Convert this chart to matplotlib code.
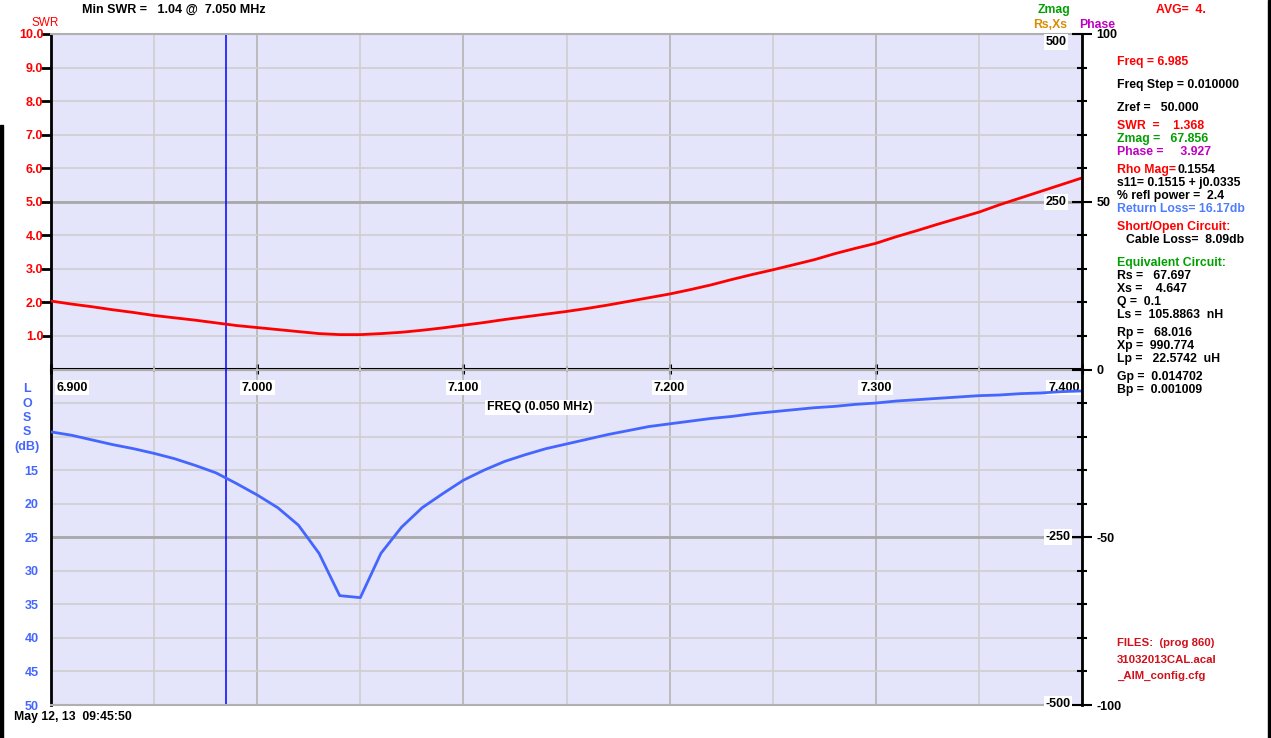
import matplotlib
matplotlib.use("Agg")
import matplotlib.pyplot as plt
import numpy as np
from matplotlib.patches import Rectangle
from matplotlib.ticker import FixedLocator, MultipleLocator, NullFormatter

plt.rcParams["font.family"] = ["Liberation Sans", "DejaVu Sans"]
plt.rcParams["axes.unicode_minus"] = False

W, H = 1271, 738

# sweep 6.900 .. 7.400 MHz, 0.010 MHz step
freq_step = 0.010
freq = np.round(6.90 + freq_step * np.arange(51), 3)

swr = [2.04, 1.95, 1.87, 1.78, 1.70, 1.61, 1.54, 1.47, 1.39, 1.31,
       1.25, 1.19, 1.13, 1.07, 1.04, 1.04, 1.07, 1.11, 1.17, 1.24,
       1.32, 1.40, 1.49, 1.57, 1.65, 1.73, 1.82, 1.92, 2.03, 2.14,
       2.25, 2.38, 2.52, 2.68, 2.83, 2.97, 3.12, 3.27, 3.45, 3.61,
       3.76, 3.96, 4.14, 4.33, 4.51, 4.69, 4.91, 5.11, 5.31, 5.51, 5.71]

loss_db = [9.3, 9.8, 10.5, 11.2, 11.8, 12.5, 13.3, 14.3, 15.4, 17.0,
           18.7, 20.6, 23.2, 27.4, 33.7, 34.0, 27.4, 23.5, 20.6, 18.5,
           16.5, 15.0, 13.7, 12.7, 11.8, 11.1, 10.4, 9.7, 9.1, 8.5,
           8.1, 7.7, 7.3, 7.0, 6.6, 6.3, 6.0, 5.7, 5.5, 5.2,
           5.0, 4.7, 4.5, 4.3, 4.1, 3.9, 3.8, 3.6, 3.5, 3.3, 3.2]

cursor_freq = 6.985
freq_labels = ["6.900", "7.000", "7.100", "7.200", "7.300", "7.400"]
swr_ticks = [1, 2, 3, 4, 5, 6, 7, 8, 9, 10]
loss_ticks = [15, 20, 25, 30, 35, 40, 45, 50]
phase_labels = {100: "100", 50: "50", 0: "0", -50: "-50", -100: "-100"}
z_labels = ["500", "250", "-250", "-500"]

readout = [
    ("Freq = 6.985", "#ff0000", 62),
    ("Freq Step = 0.010000", "black", 85),
    ("Zref =   50.000", "black", 108),
    ("SWR  =    1.368", "#ff0000", 126),
    ("Zmag =   67.856", "#00a000", 139),
    ("Phase =     3.927", "#c000c0", 152),
    ("s11= 0.1515 + j0.0335", "black", 183),
    ("% refl power =  2.4", "black", 196),
    ("Return Loss= 16.17db", "#4d7cff", 209),
    ("Short/Open Circuit:", "#ff0000", 227),
    ("Equivalent Circuit:", "#00a000", 263),
    ("Rs =   67.697", "black", 276),
    ("Xs =    4.647", "black", 289),
    ("Q =  0.1", "black", 302),
    ("Ls =  105.8863  nH", "black", 315),
    ("Rp =   68.016", "black", 333),
    ("Xp =  990.774", "black", 346),
    ("Lp =   22.5742  uH", "black", 359),
    ("Gp =  0.014702", "black", 377),
    ("Bp =  0.001009", "black", 390),
]
files = ["FILES:  (prog 860)", "31032013CAL.acal", "_AIM_config.cfg"]

fig = plt.figure(figsize=(W / 100, H / 100), dpi=100)


def ftext(x, y, s, color="black", ha="left", size=8.8, weight="bold", **kw):
    return fig.text(x / W, 1 - y / H, s, color=color, ha=ha, va="center",
                    fontsize=size, fontweight=weight, **kw)


left, right, top, bottom = 51, 1082, 34, 705
ax = fig.add_axes([left / W, 1 - bottom / H, (right - left) / W, (bottom - top) / H])
ax.set_facecolor("#e4e4fa")
ax.set_xlim(6.9, 7.4)
ax.set_ylim(-10, 10)

# grid
ax.xaxis.set_major_locator(FixedLocator([6.9, 7.0, 7.1, 7.2, 7.3, 7.4]))
ax.xaxis.set_minor_locator(FixedLocator([6.95, 7.05, 7.15, 7.25, 7.35]))
ax.xaxis.set_major_formatter(NullFormatter())
ax.tick_params(axis="x", which="both", length=0)
ax.grid(which="major", axis="x", color="#b4b4b4", lw=1.2)
ax.grid(which="minor", axis="x", color="#cfcfcf", lw=1.2)

ax.yaxis.set_major_locator(FixedLocator(swr_ticks))
ax.yaxis.set_minor_locator(MultipleLocator(1))
ax.set_yticklabels([f"{v:.1f}" for v in swr_ticks])
ax.tick_params(axis="y", which="major", length=7, width=2, pad=-1.5,
               colors="black", labelcolor="#ff0000", labelsize=9)
ax.tick_params(axis="y", which="minor", length=0)
for lbl in ax.get_yticklabels():
    lbl.set_fontweight("bold")
ax.grid(which="both", axis="y", color="#cfcfcf", lw=1.2)
ax.axhline(5, color="#a8a8a8", lw=2)
ax.axhline(-5, color="#a8a8a8", lw=2)
ax.set_axisbelow(True)

ax.spines["left"].set_linewidth(2)
ax.spines["left"].set_color("black")
ax.spines["right"].set_visible(False)
for s in ("top", "bottom"):
    ax.spines[s].set_color("#b0b0b0")
    ax.spines[s].set_linewidth(1.5)

# cursor and SWR trace
ax.axvline(cursor_freq, color="#0000ff", lw=1.1)
ax.plot(freq, swr, color="#ff0000", lw=2, zorder=4)

# return loss trace on its own inverted scale
ax_loss = ax.twinx()
ax_loss.set_ylim(50, -50)
for s in ax_loss.spines.values():
    s.set_visible(False)
ax_loss.yaxis.tick_left()
ax_loss.set_yticks(loss_ticks)
ax_loss.set_yticklabels([str(v) for v in loss_ticks])
ax_loss.tick_params(axis="y", length=0, pad=9, labelcolor="#4466ff", labelsize=9)
for lbl in ax_loss.get_yticklabels():
    lbl.set_fontweight("bold")
ax_loss.plot(freq, loss_db, color="#4466ff", lw=2, zorder=4)

# phase / impedance axis on the right
ax_r = ax.twinx()
ax_r.set_ylim(-100, 100)
for s in ("left", "top", "bottom"):
    ax_r.spines[s].set_visible(False)
ax_r.spines["right"].set_linewidth(2)
ax_r.yaxis.set_major_locator(FixedLocator(list(phase_labels)))
ax_r.yaxis.set_minor_locator(MultipleLocator(10))
ax_r.set_yticklabels(list(phase_labels.values()))
ax_r.tick_params(axis="y", which="major", direction="inout", length=14.5, width=1.5,
                 pad=3, labelsize=9)
ax_r.tick_params(axis="y", which="minor", direction="inout", length=7.5, width=1.5)
for lbl in ax_r.get_yticklabels():
    lbl.set_fontweight("bold")

# frequency axis through the middle
sec = ax.secondary_xaxis(0.5)
sec.set_xticks([6.9, 7.0, 7.1, 7.2, 7.3, 7.4])
sec.xaxis.set_minor_locator(FixedLocator([6.95, 7.05, 7.15, 7.25, 7.35]))
sec.xaxis.set_major_formatter(NullFormatter())
for s in sec.spines.values():
    s.set_linewidth(2.2)
    s.set_color("black")
sec.tick_params(axis="x", which="major", direction="inout", length=7, width=2.2,
                color="black")
sec.tick_params(axis="x", which="minor", direction="inout", length=4, width=1.3,
                color="black")

box = dict(facecolor="white", edgecolor="none", pad=1.2)
for i, lab in enumerate(freq_labels):
    fx = 6.9 + 0.1 * i
    ha = "center"
    if i == 0:
        ha, fx = "left", fx + 0.0025
    elif i == len(freq_labels) - 1:
        ha, fx = "right", fx - 0.0012
    ax.text(fx, -0.54, lab, ha=ha, va="center", fontsize=9, fontweight="bold", bbox=box)
ax.text(7.1115, -1.13, "FREQ (0.050 MHz)", ha="left", va="center", fontsize=8.8,
        fontweight="bold", bbox=box)

# impedance scale labels inside the plot
for lab, y in zip(z_labels, [42, 202, 537, 704]):
    ftext(1056 if not lab.startswith("-") else 1058, y, lab, ha="center", size=9, bbox=box)

# header
ftext(82, 10, "Min SWR =   1.04 @  7.050 MHz", size=9)
ftext(32, 23, "SWR", color="#ff0000", size=8.5, weight="normal")
ftext(1038, 10, "Zmag", color="#00a000")
ftext(1033, 25, "Rs,Xs", color="#d98c00")
ftext(1079, 25, "Phase", color="#c000c0")
ftext(1156, 10, "AVG=  4.", color="#ff0000")

# loss axis title
for s, y in zip(["L", "O", "S", "S", "(dB)"], [389, 404, 418, 432, 447]):
    ftext(27, y, s, color="#4466ff", ha="center", size=9)

# readout panel
for s, c, y in readout:
    ftext(1117, y, s, color=c)
ftext(1117, 170, "Rho Mag=", color="#ff0000")
ftext(1177, 170, "0.1554")
ftext(1126, 240, "Cable Loss=  8.09db")
for s, y in zip(files, [643, 660, 676]):
    ftext(1117, y, s, color="#d0101a", size=8.2)

ftext(14, 717, "May 12, 13  09:45:50", size=8.8)

# window frame
fig.patches.append(Rectangle((0, 0), 3 / W, 0.83, transform=fig.transFigure,
                             color="black", zorder=0))
fig.patches.append(Rectangle((1 - 3 / W, 0), 3 / W, 1, transform=fig.transFigure,
                             color="black", zorder=0))

fig.savefig("out.png", dpi=100)
